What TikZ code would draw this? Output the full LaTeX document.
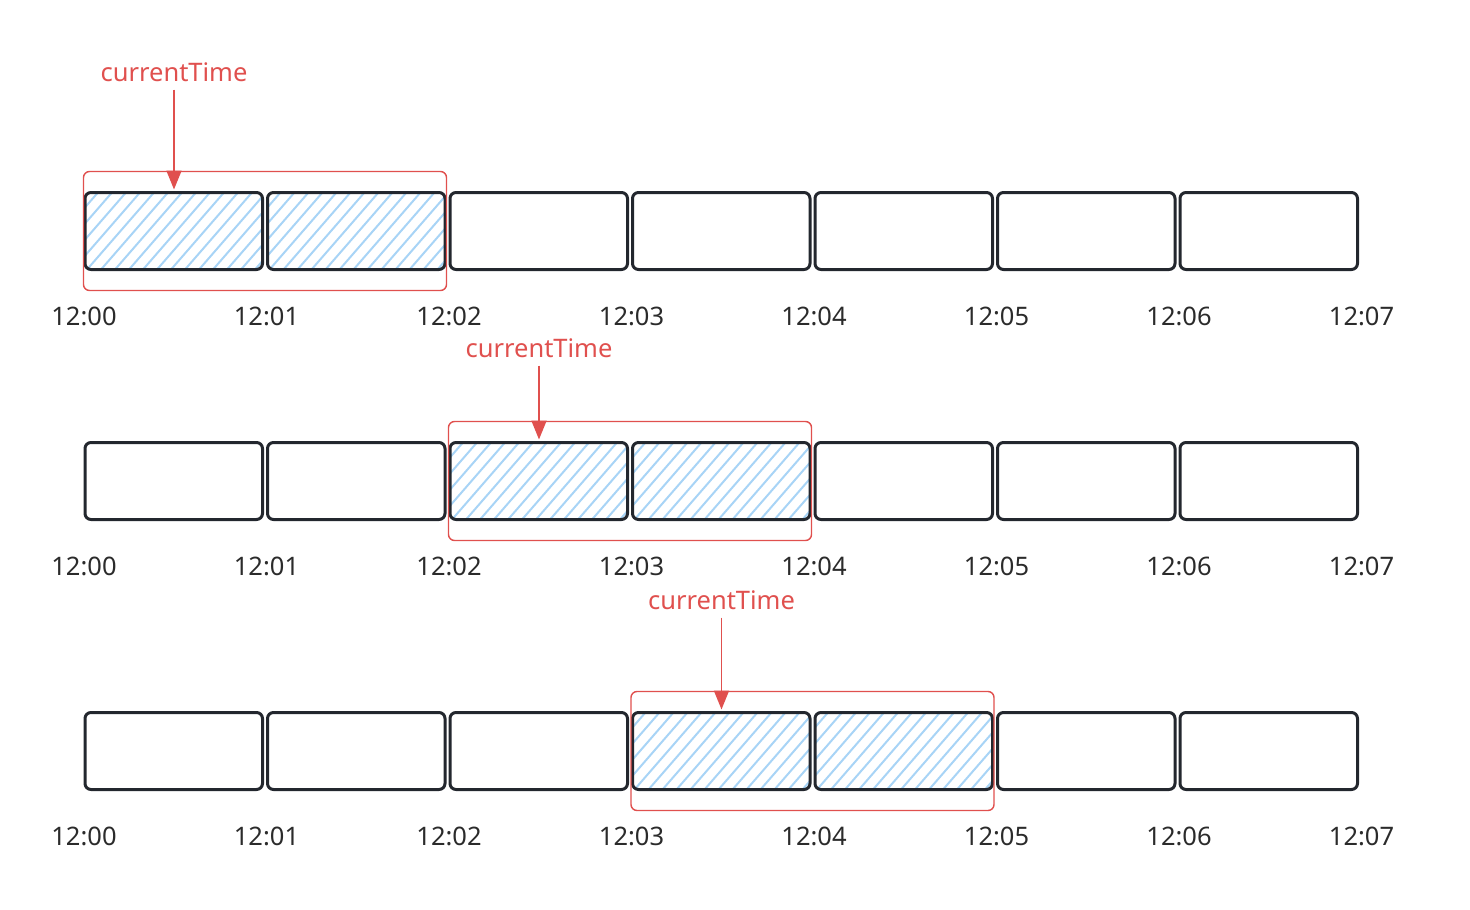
\documentclass[tikz,border=0pt]{standalone}
\usepackage{fontspec}
\setmainfont{Noto Sans}
\usetikzlibrary{arrows.meta}
\definecolor{boxc}{HTML}{23272E}
\definecolor{redc}{HTML}{E0504E}
\definecolor{hatchc}{HTML}{A8D4F6}
\definecolor{txtc}{HTML}{2B2B2B}
\begin{document}
\begin{tikzpicture}[x=1pt,y=-1pt,
  cell/.style={draw=boxc, line width=3pt, rounded corners=6pt, minimum width=177.5pt, minimum height=77pt, inner sep=0pt},
  sel/.style={draw=redc, line width=1.4pt, rounded corners=6pt, minimum width=363pt, minimum height=119pt, inner sep=0pt},
  tick/.style={text=txtc, font=\fontsize{25.5}{30}\selectfont, inner sep=0pt},
  lab/.style={text=redc, font=\fontsize{25.5}{30}\selectfont, inner sep=0pt},
  ptr/.style={draw=redc, line width=1.8pt, -{Triangle[length=19pt,width=15pt]}},
  hatch/.style={draw=hatchc, line width=2pt}]
\useasboundingbox (0,0) rectangle (1470,910);
% rows: index, top of boxes, label y, first selected cell, pointer label y
\foreach \r/\top/\ty/\s/\cy in {1/191/316/0/72, 2/441/566/2/348, 3/711/836/3/600}{
  % hatching of the two selected cells
  \foreach \i in {\s,...,\numexpr\s+1\relax}{
    \begin{scope}
      \clip[rounded corners=6pt] ({84+182.5*\i},{\top+1}) rectangle ({84+182.5*\i+179.5},{\top+79});
      \foreach \k in {-84,-70,...,196}{
        \draw[hatch] ({84+182.5*\i+\k},{\top+82}) -- ++(73,-84);
      }
    \end{scope}
  }
  % cells
  \foreach \i in {0,...,6}{
    \node[cell] (c\r-\i) at ({84+182.5*\i+89.75},{\top+40}) {};
  }
  % tick labels
  \foreach \i in {0,...,7}{
    \node[tick] (t\r-\i) at ({84+182.5*\i},\ty) {12:0\i};
  }
  % selection window
  \node[sel] (w\r) at ({84+182.5*\s+181},{\top+40}) {};
  % pointer
  \node[lab, anchor=center] (ct\r) at ({84+182.5*\s+90},\cy) {currentTime};
  \draw[ptr] ([yshift=-8pt]ct\r.south) -- ([yshift=1.5pt]ct\r.south |- c\r-\s.north);
}
\end{tikzpicture}
\end{document}
